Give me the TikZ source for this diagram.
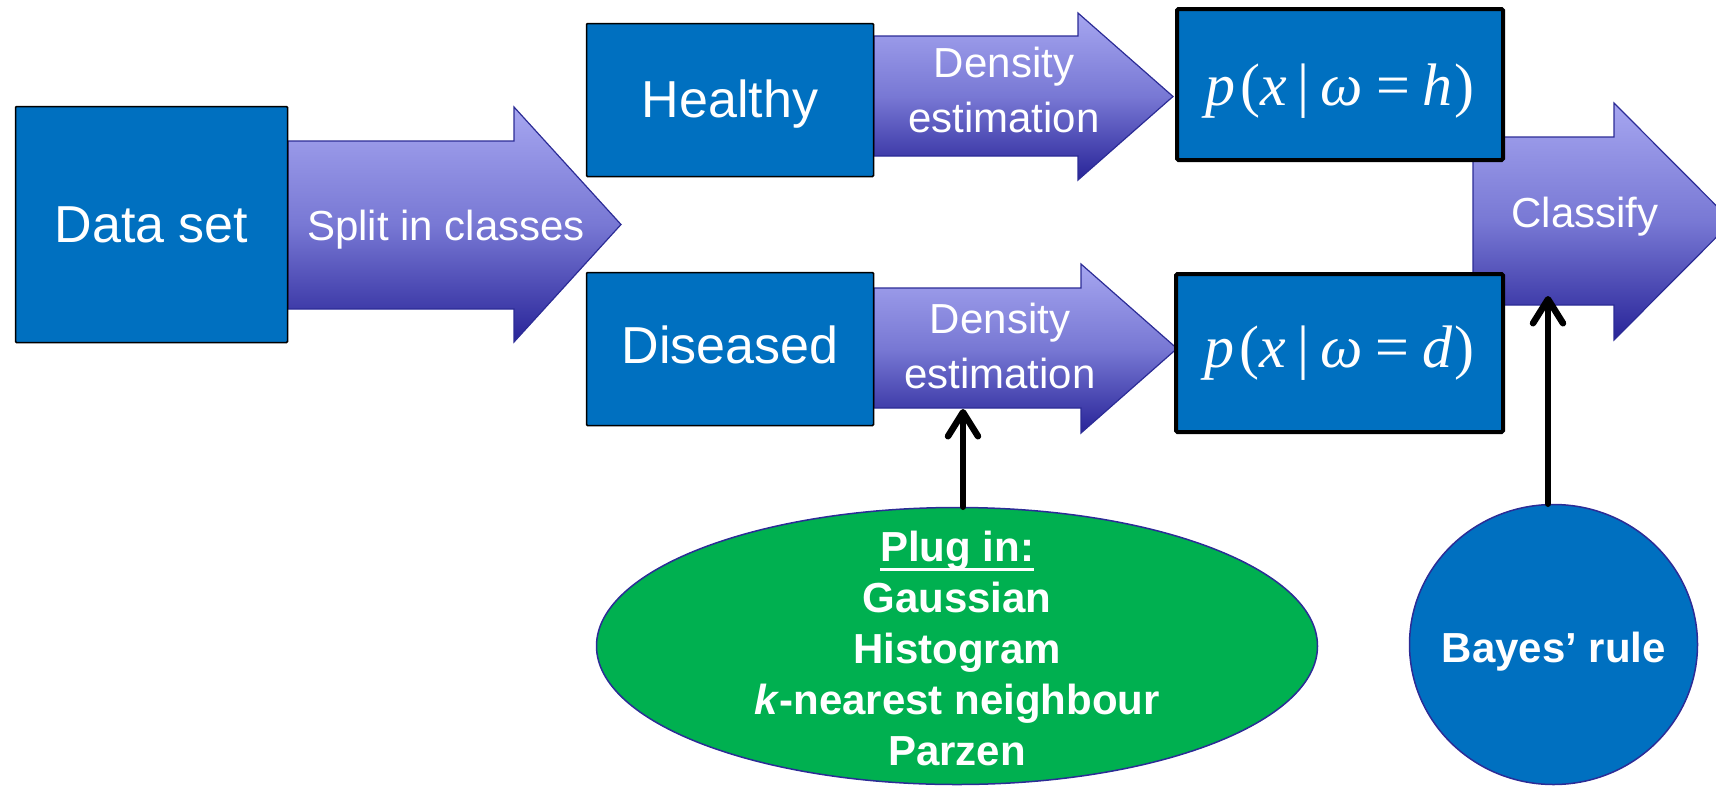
\documentclass[tikz,border=0pt]{standalone}
\usepackage{fontspec}
\setmainfont{Liberation Sans}
\newfontfamily\formulafont{Liberation Serif}
\usetikzlibrary{arrows.meta,shapes.geometric}

\definecolor{boxblue}{RGB}{0,112,192}
\definecolor{edgeblue}{RGB}{44,44,150}
\definecolor{plugreen}{RGB}{0,176,80}
\definecolor{arrowtop}{RGB}{166,166,240}
\definecolor{arrowmid}{RGB}{120,120,212}
\definecolor{arrowbot}{RGB}{40,36,152}
\pgfdeclareverticalshading{arrowfill}{100bp}{color(0bp)=(arrowbot); color(25bp)=(arrowbot); color(50bp)=(arrowmid); color(75bp)=(arrowtop); color(100bp)=(arrowtop)}

% class-conditional density, set in Times-like italics
\newcommand{\condprob}[1]{\formulafont\textit{p}\kern5pt(\textit{x}\kern11pt|\kern11pt\textit{ω}\kern13pt=\kern13pt\textit{#1}\kern2pt)}
% heading with a thick underline
\newcommand{\ulinetext}[1]{\vtop{\hbox{#1}\kern-2pt\hrule height 3pt}}

\begin{document}
\begin{tikzpicture}[x=1pt,y=-1pt,
  bluebox/.style={draw=black, line width=1.5pt, fill=boxblue, rounded corners=1pt,
    inner sep=0pt, text=white, font=\fontsize{52}{52}\selectfont, text depth=0pt},
  probbox/.style={draw=black, line width=4pt, fill=boxblue, rounded corners=1.5pt,
    inner sep=0pt, text=white, font=\fontsize{60}{60}\selectfont, text depth=0pt},
  blockarrow/.style={draw=edgeblue, line width=1.2pt, line join=miter, shading=arrowfill},
  arrowlabel/.style={text=white, font=\fontsize{42}{55}\selectfont, inner sep=0pt, align=center},
  boldlabel/.style={text=white, font=\fontsize{42}{51}\selectfont\bfseries, align=center, inner sep=0pt},
  feed/.style={draw=black, line width=6.5pt, line cap=round,
    -{Straight Barb[length=24pt,width=30pt,round]}}
]
\useasboundingbox (0,0) rectangle (1716,785);
\clip (0,0) rectangle (1716,785);

% block arrows (drawn first, boxes sit on top of their tails)
\path[blockarrow] (288,141) -- (514,141) -- (514,107) -- (621,224.5) -- (514,342) -- (514,309) -- (288,309) -- cycle;
\path[blockarrow] (874,36) -- (1078,36) -- (1078,13) -- (1173,96.5) -- (1078,180) -- (1078,156) -- (874,156) -- cycle;
\path[blockarrow] (874,288) -- (1081,288) -- (1081,264) -- (1177,348.5) -- (1081,433) -- (1081,408) -- (874,408) -- cycle;
\path[blockarrow] (1473,137) -- (1614,137) -- (1614,103) -- (1732,221.5) -- (1614,340) -- (1614,305) -- (1473,305) -- cycle;

\node[arrowlabel, anchor=base] (splitlbl) at (446,240) {Split in classes};
\node[arrowlabel] (dens1lbl) at (1004,90) {Density\\estimation};
\node[arrowlabel] (dens2lbl) at (1000,346) {Density\\estimation};
\node[arrowlabel, anchor=base] (clslbl) at (1585,227) {Classify};

% boxes
\node[bluebox, minimum width=272pt, minimum height=236pt, text height=35pt] (data) at (151.5,224.5) {Data set};
\node[bluebox, minimum width=287pt, minimum height=153pt, text height=34pt] (healthy) at (730,100) {Healthy};
\node[bluebox, minimum width=287pt, minimum height=153pt, text height=28pt] (diseased) at (730,349) {Diseased};
\node[probbox, minimum width=326pt, minimum height=151pt, text height=41pt] (ph) at (1340,84.5) {\condprob{h}};
\node[probbox, minimum width=327pt, minimum height=158pt, text height=28pt] (pd) at (1339.5,353) {\condprob{d}};

% plug-in estimators
\node[ellipse, draw=edgeblue, line width=1.5pt, fill=plugreen, minimum width=721pt, minimum height=277pt,
  inner sep=0pt] (plug) at (957,646) {};
\node[boldlabel] (plugtext) at (957,648)
  {\ulinetext{Plug in:}\\Gaussian\\Histogram\\\textit{k}-nearest neighbour\\Parzen};

% decision rule
\node[ellipse, draw=edgeblue, line width=1.5pt, fill=boxblue, minimum width=288pt, minimum height=280pt,
  inner sep=0pt] (bayes) at (1553.5,644.5) {};
\node[boldlabel, anchor=base] (bayestext) at (1554,662) {Bayes’ rule};

% feeding arrows
\coordinate (densin) at (963,409);
\coordinate (clsin) at (1548,296);
\draw[feed] (plug.north -| densin) -- (densin);
\draw[feed] (bayes.north -| clsin) -- (clsin);
\end{tikzpicture}
\end{document}
